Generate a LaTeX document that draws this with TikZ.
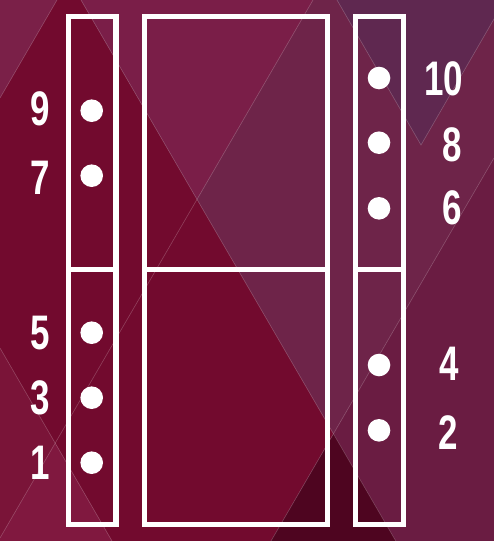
\documentclass[tikz,border=0pt]{standalone}
\usepackage{fontspec}
\newfontfamily\numfont{Liberation Sans}
\definecolor{bgred}{HTML}{720A2E}
\definecolor{upperpurple}{HTML}{7A1E48}
\definecolor{greypurple}{HTML}{6E2449}
\definecolor{cornerpurple}{HTML}{7A2048}
\definecolor{trpurple}{HTML}{5F2850}
\definecolor{rightdark}{HTML}{6A1C42}
\definecolor{deepred}{HTML}{4E0520}
\definecolor{leftpink}{HTML}{7A1438}
\definecolor{lowpink}{HTML}{80183F}
\newcommand{\cnum}[1]{\scalebox{0.72}[1]{#1}}
\begin{document}
\begin{tikzpicture}[x=1pt,y=-1pt,
  frame/.style={draw=white,line width=5.3pt},
  dot/.style={circle,fill=white,minimum size=22.6pt,inner sep=0pt},
  num/.style={text=white,inner sep=0pt,font=\numfont\bfseries\fontsize{48.5}{48.5}\selectfont},
  facet/.style={draw=white,draw opacity=0.22,line width=0.6pt}]
\useasboundingbox (0,0) rectangle (494,541);
\begin{scope}
\clip (0,0) rectangle (494,541);
\fill[bgred] (0,0) rectangle (494,541);
\fill[cornerpurple] (0,0) -- (57,0) -- (0,98) -- cycle;
\fill[greypurple] (81,0) -- (494,0) -- (494,541) -- (395.8,541) -- cycle;
\fill[upperpurple] (81,0) -- (313,0) -- (197,199) -- cycle;
\fill[trpurple] (337,0) -- (505,0) -- (421,145) -- cycle;
\fill[rightdark] (494,158) -- (494,541) -- (271,541) -- cycle;
\fill[deepred] (333.6,433.9) -- (271,541) -- (395.8,541) -- cycle;
\fill[leftpink] (0,348) -- (112,541) -- (0,541) -- cycle;
\fill[lowpink] (55.2,443) -- (112,541) -- (-1.7,541) -- cycle;
\draw[facet] (57,0) -- (0,98);
\draw[facet] (81,0) -- (395.8,541);
\draw[facet] (313,0) -- (0,538);
\draw[facet] (337,0) -- (421,145) -- (505,0);
\draw[facet] (494,158) -- (271,541);
\draw[facet] (0,348) -- (112,541);
\end{scope}
% frames
\draw[frame] (68.8,16.2) rectangle (115.9,524.5);
\draw[frame] (68.8,269.5) -- (115.9,269.5);
\draw[frame] (144.2,16.2) rectangle (327.5,524.5);
\draw[frame] (144.2,269.5) -- (327.5,269.5);
\draw[frame] (355.8,16.2) rectangle (403.3,524.5);
\draw[frame] (355.8,269.5) -- (403.3,269.5);
% left dots
\node[dot] (d9) at (91.7,110.7) {};
\node[dot] (d7) at (91.7,175.7) {};
\node[dot] (d5) at (91.7,332.7) {};
\node[dot] (d3) at (91.7,397.7) {};
\node[dot] (d1) at (91.7,462.7) {};
% right dots
\node[dot] (d10) at (379,78) {};
\node[dot] (d8) at (379,142.7) {};
\node[dot] (d6) at (379,208.3) {};
\node[dot] (d4) at (379,365) {};
\node[dot] (d2) at (379,430.3) {};
% left labels
\node[num] (n9) at (40,109.3) {\cnum{9}};
\node[num] (n7) at (40.5,178) {\cnum{7}};
\node[num] (n5) at (40,333.3) {\cnum{5}};
\node[num] (n3) at (40,397.5) {\cnum{3}};
\node[num] (n1) at (40,462.5) {\cnum{1}};
% right labels
\node[num] (n10) at (443.5,79) {\cnum{10}};
\node[num] (n8) at (452.7,145) {\cnum{8}};
\node[num] (n6) at (452.3,208) {\cnum{6}};
\node[num] (n4) at (449,363.5) {\cnum{4}};
\node[num] (n2) at (448.7,433) {\cnum{2}};
\end{tikzpicture}
\end{document}
